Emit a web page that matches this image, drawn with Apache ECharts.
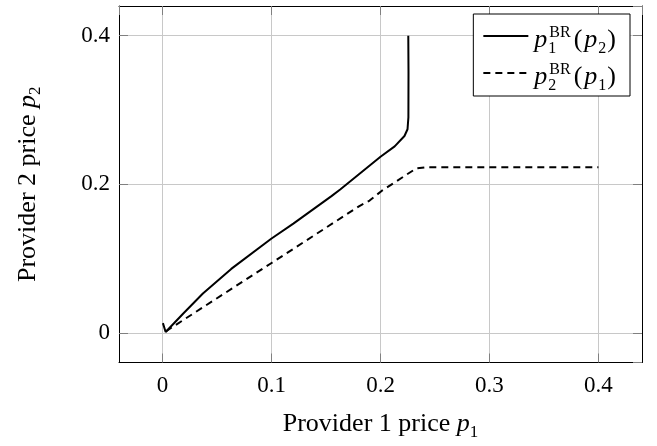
<!DOCTYPE html>
<html><head><meta charset="utf-8">
<script src="https://cdn.jsdelivr.net/npm/echarts@6/dist/echarts.min.js"></script>
<style>html,body{margin:0;padding:0;background:#fff}#c{width:657px;height:446px}</style>
</head><body><div id="c"></div>
<script>
// ---- data ----
const solidName = 'p1BR(p2)';   // best response of provider 1
const dashedName = 'p2BR(p1)';  // best response of provider 2
const solidP1 = [0.0003, 0.0028, 0.019, 0.037, 0.063, 0.100, 0.120, 0.155, 0.163, 0.200, 0.213, 0.222, 0.2248, 0.2256, 0.2257, 0.2255];
const solidP2 = [0.013, 0.001, 0.026, 0.053, 0.086, 0.127, 0.147, 0.184, 0.193, 0.237, 0.251, 0.265, 0.274, 0.290, 0.350, 0.400];
const dashedP1 = [0.003, 0.100, 0.181, 0.190, 0.201, 0.224, 0.233, 0.242, 0.250, 0.400];
const dashedP2 = [0.002, 0.094, 0.171, 0.178, 0.191, 0.213, 0.2215, 0.223, 0.2228, 0.2228];
const axisMin = -0.04, axisMax = 0.44;

const FONT = '"Liberation Serif", "DejaVu Serif", serif';
const FS = 26, TFS = 23;
// legend rich text: text sits ~4px below the sample line, sub/superscripts stacked
const lrich = {
  rm: {fontFamily: FONT, fontSize: FS, lineHeight: 28, height: 20, verticalAlign: 'bottom', padding: [0, 1, 0, 1], color: '#000'},
  it: {fontFamily: FONT, fontSize: FS, fontStyle: 'italic', lineHeight: 28, height: 20, verticalAlign: 'bottom', padding: [0, 1, 0, 1], color: '#000'},
  sb: {fontFamily: FONT, fontSize: 16, height: 2, verticalAlign: 'bottom', color: '#000'},
  sbz: {fontFamily: FONT, fontSize: 16, height: 2, verticalAlign: 'bottom', width: 1, color: '#000'},
  sp: {fontFamily: FONT, fontSize: 16, height: 22, verticalAlign: 'top', padding: [0, 2, 0, 0], color: '#000'}
};
// axis-name rich text
const arich = {
  rm: {fontFamily: FONT, fontSize: FS, lineHeight: 30, color: '#000'},
  it: {fontFamily: FONT, fontSize: FS, fontStyle: 'italic', lineHeight: 30, color: '#000'},
  sb: {fontFamily: FONT, fontSize: 17, height: 14, verticalAlign: 'bottom', color: '#000'}
};
const legendText = {};
legendText[solidName] = '{it|p}{sbz|1}{sp|BR}{rm|(}{it|p}{sb|2}{rm|)}';
legendText[dashedName] = '{it|p}{sbz|2}{sp|BR}{rm|(}{it|p}{sb|1}{rm|)}';

const chart = echarts.init(document.getElementById('c'), null, {renderer: 'canvas'});
const axisCommon = {
  type: 'value', min: axisMin, max: axisMax,
  axisLine: {show: true, onZero: false, lineStyle: {color: '#000', width: 1}},
  axisTick: {show: true, inside: true, length: 9, lineStyle: {color: '#808080', width: 1}}
};
chart.setOption({
  animation: false,
  grid: {left: 119, right: 15, top: 6, bottom: 76, containLabel: false},
  legend: {
    orient: 'vertical', right: 27, top: 14,
    padding: [8, 13, 2, 9], itemGap: 2,
    itemWidth: 45, itemHeight: 14, itemTextGap: 3,
    backgroundColor: '#fff', borderColor: '#000', borderWidth: 1,
    itemStyle: {opacity: 0},
    data: [solidName, dashedName],
    formatter: n => legendText[n],
    textStyle: {fontFamily: FONT, fontSize: FS, lineHeight: 28, color: '#000', rich: lrich}
  },
  xAxis: [
    Object.assign({}, axisCommon, {
      position: 'bottom', splitNumber: 5,
      name: '{rm|Provider 1 price }{it|p}{sb|1}', nameLocation: 'middle', nameGap: 47,
      nameTextStyle: {fontFamily: FONT, fontSize: FS, color: '#000', rich: arich},
      axisLabel: {showMinLabel: false, showMaxLabel: false, fontFamily: FONT, fontSize: TFS, color: '#000', margin: 12},
      splitLine: {show: true, lineStyle: {color: '#c8c8c8', width: 1}}
    }),
    Object.assign({}, axisCommon, {position: 'top', splitNumber: 5, axisLabel: {show: false}, splitLine: {show: false}})
  ],
  yAxis: [
    Object.assign({}, axisCommon, {
      position: 'left', splitNumber: 2,
      name: '{rm|Provider 2 price }{it|p}{sb|2}', nameLocation: 'middle', nameGap: 76,
      nameTextStyle: {fontFamily: FONT, fontSize: FS, color: '#000', rich: arich},
      axisLabel: {showMinLabel: false, showMaxLabel: false, fontFamily: FONT, fontSize: TFS, color: '#000', margin: 9},
      splitLine: {show: true, lineStyle: {color: '#c8c8c8', width: 1}}
    }),
    Object.assign({}, axisCommon, {position: 'right', splitNumber: 2, axisLabel: {show: false}, splitLine: {show: false}})
  ],
  series: [
    {name: solidName, type: 'line', xAxisIndex: 0, yAxisIndex: 0, symbol: 'none', showSymbol: false,
     data: solidP1.map((x, i) => [x, solidP2[i]]),
     lineStyle: {color: '#000', width: 2}, itemStyle: {color: '#000'}, z: 3},
    {name: dashedName, type: 'line', xAxisIndex: 0, yAxisIndex: 0, symbol: 'none', showSymbol: false,
     data: dashedP1.map((x, i) => [x, dashedP2[i]]),
     lineStyle: {color: '#000', width: 2, type: [7, 5]}, itemStyle: {color: '#000'}, z: 3}
  ]
});
</script></body></html>
